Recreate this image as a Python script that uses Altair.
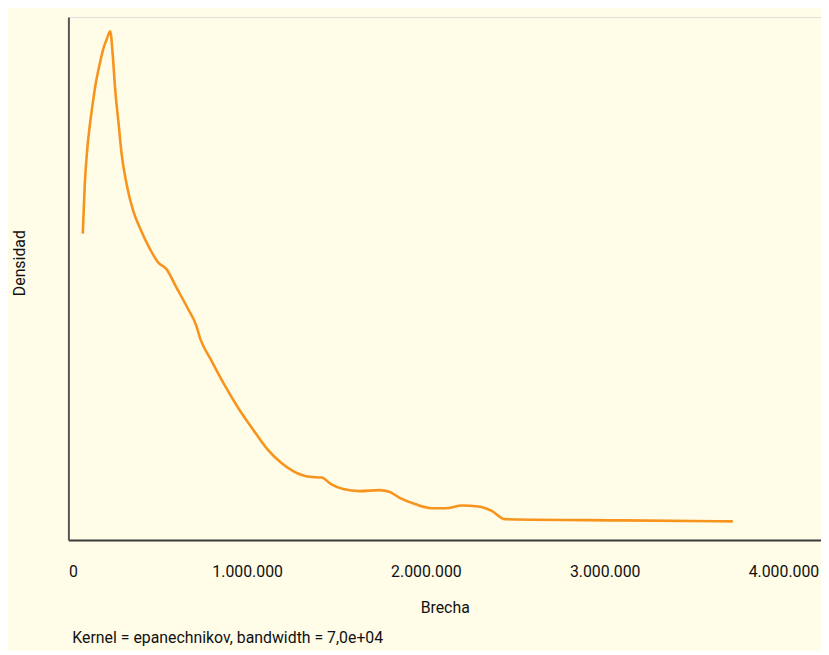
import altair as alt
import pandas as pd

# Kernel density estimate (x = Brecha, y = density ×1e-6)
brecha = [80400, 91500, 104200, 117500, 131900, 150800, 172900, 196800, 217300, 233900,
          248300, 261600, 279900, 298200, 325900, 363100, 400200, 455700, 501700,
          547700, 603100, 668000, 714000, 738400, 797100, 871400, 954500, 1037700,
          1111400, 1185100, 1259400, 1351400, 1416300, 1471700, 1536600, 1628600,
          1739500, 1794900, 1850400, 1942900, 2035500, 2109200, 2201800, 2293800,
          2368100, 2441800, 3107000, 3716800]
densidad = [0.7733, 0.8968, 0.98, 1.0383, 1.0883, 1.1468, 1.1968, 1.2425, 1.2675, 1.2843,
            1.2225, 1.1375, 1.055, 0.9725, 0.8975, 0.83, 0.7875, 0.735, 0.7008,
            0.6843, 0.6383, 0.5843, 0.5425, 0.5068, 0.455, 0.3925, 0.33, 0.2758,
            0.23, 0.1968, 0.1733, 0.1593, 0.1575, 0.14, 0.1283, 0.1233,
            0.1258, 0.1218, 0.1068, 0.09, 0.08, 0.08, 0.0868, 0.0843,
            0.0733, 0.0525, 0.0493, 0.0468]
x_ticks = [0, 1000000, 2000000, 3000000, 4000000]

df = pd.DataFrame({"Brecha": brecha, "Densidad": densidad})

FONT = "Roboto"
BG = "#fffce8"

chart = alt.Chart(df).mark_line(color="#f7941d", strokeWidth=2.6, interpolate="monotone").encode(
    x=alt.X("Brecha:Q",
            scale=alt.Scale(domain=[0, 4210000], nice=False, zero=False),
            axis=alt.Axis(values=x_ticks, format=",d", title="Brecha",
                          grid=False, ticks=False, domainColor="#3a3a3a", domainWidth=2,
                          labelFont=FONT, labelFontSize=16, labelColor="#111111",
                          labelPadding=24, labelFlush=True, labelOverlap=False,
                          titleFont=FONT, titleFontSize=16, titleFontWeight="normal",
                          titleColor="#111111", titleY=68, titleBaseline="middle")),
    y=alt.Y("Densidad:Q",
            scale=alt.Scale(domain=[0, 1.32], nice=False),
            axis=alt.Axis(title="Densidad", labels=False, ticks=False, grid=False,
                          domainColor="#555555", domainWidth=2,
                          titleFont=FONT, titleFontSize=16, titleFontWeight="normal",
                          titleColor="#111111", titleAngle=270, titleX=-49, titleY=248,
                          titleAlign="center", titleBaseline="middle")),
).properties(
    width=760,
    height=528,
    background=BG,
    padding={"left": 61, "top": 6, "right": 0, "bottom": 109},
    autosize=alt.AutoSizeParams(type="none"),
    title=alt.TitleParams("Kernel = epanechnikov, bandwidth = 7,0e+04", orient="bottom",
                          anchor="start", frame="group", font=FONT, fontSize=16,
                          fontWeight="normal", color="#111111", offset=15, dx=4),
).configure_view(stroke=None, fill=BG).configure(
    locale={"number": {"decimal": ",", "thousands": ".", "grouping": [3], "currency": ["", ""]}}
)

chart.save("out.html", embed_options={"renderer": "svg", "actions": False})
